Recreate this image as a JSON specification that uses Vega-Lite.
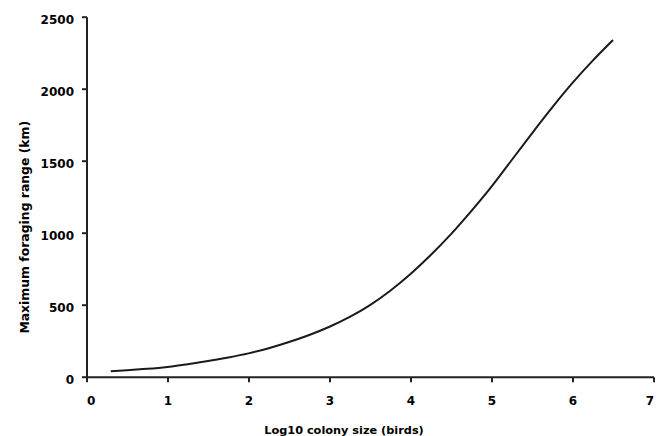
{
  "$schema": "https://vega.github.io/schema/vega-lite/v6.json",
  "width": 567,
  "height": 360,
  "autosize": {"type": "none"},
  "padding": {"left": 86.5, "top": 16.7, "right": 8.5, "bottom": 59.3},
  "background": "white",
  "config": {
    "view": {"stroke": null},
    "axis": {
      "grid": false,
      "domainColor": "#222222",
      "domainWidth": 2,
      "tickColor": "#222222",
      "tickWidth": 2,
      "tickSize": 5,
      "labelFont": "DejaVu Sans",
      "labelFontWeight": "bold",
      "labelFontSize": 12,
      "labelColor": "#000000",
      "titleFont": "DejaVu Sans",
      "titleFontWeight": "bold",
      "titleColor": "#000000"
    }
  },
  "data": {
    "values": [
      {"logsize": 0.3, "range": 38},
      {"logsize": 0.5, "range": 45},
      {"logsize": 0.75, "range": 55},
      {"logsize": 1.0, "range": 68},
      {"logsize": 1.25, "range": 87},
      {"logsize": 1.5, "range": 109},
      {"logsize": 1.75, "range": 134},
      {"logsize": 2.0, "range": 162},
      {"logsize": 2.25, "range": 198},
      {"logsize": 2.5, "range": 241},
      {"logsize": 2.75, "range": 290},
      {"logsize": 3.0, "range": 347},
      {"logsize": 3.25, "range": 415},
      {"logsize": 3.5, "range": 497},
      {"logsize": 3.75, "range": 597},
      {"logsize": 4.0, "range": 713},
      {"logsize": 4.25, "range": 845},
      {"logsize": 4.5, "range": 990},
      {"logsize": 4.75, "range": 1150},
      {"logsize": 5.0, "range": 1320},
      {"logsize": 5.25, "range": 1505},
      {"logsize": 5.5, "range": 1690},
      {"logsize": 5.75, "range": 1870},
      {"logsize": 6.0, "range": 2040},
      {"logsize": 6.25, "range": 2195},
      {"logsize": 6.5, "range": 2338}
    ]
  },
  "mark": {"type": "line", "interpolate": "natural", "color": "#1a1a1a", "strokeWidth": 2},
  "encoding": {
    "x": {
      "field": "logsize",
      "type": "quantitative",
      "scale": {"domain": [0, 7], "nice": false, "zero": false},
      "axis": {
        "values": [0, 1, 2, 3, 4, 5, 6, 7],
        "format": "d",
        "title": "Log10 colony size (birds)",
        "titleFontSize": 11.3,
        "labelBaseline": "top",
        "labelPadding": 14,
        "titleAnchor": null,
        "titleAlign": "center",
        "titleBaseline": "alphabetic",
        "titleX": 257,
        "titleY": 56.5
      }
    },
    "y": {
      "field": "range",
      "type": "quantitative",
      "scale": {"domain": [0, 2500], "nice": false},
      "axis": {
        "values": [0, 500, 1000, 1500, 2000, 2500],
        "format": "d",
        "title": "Maximum foraging range (km)",
        "titleFontSize": 12.4,
        "labelPadding": 8,
        "labelOffset": 3,
        "titleAngle": -90,
        "titleAlign": "center",
        "titleBaseline": "middle",
        "titleX": -62,
        "titleY": 210
      }
    }
  }
}
